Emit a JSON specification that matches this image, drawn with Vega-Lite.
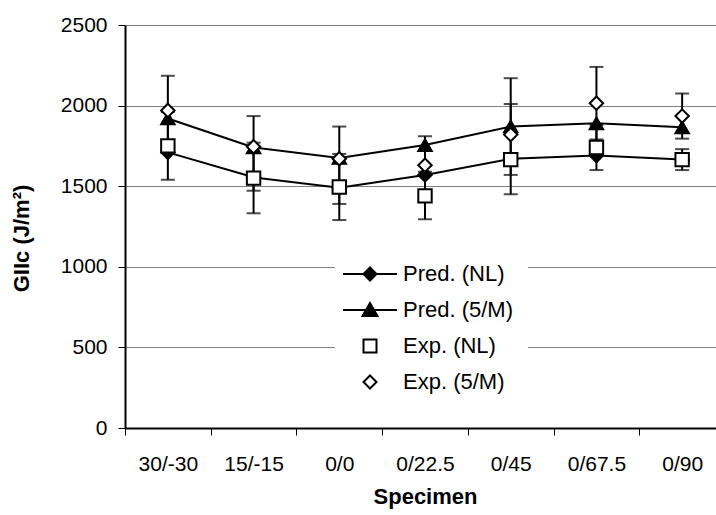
{
  "$schema": "https://vega.github.io/schema/vega-lite/v6.json",
  "width": 600,
  "height": 403,
  "autosize": {"type": "none"},
  "padding": {"left": 125, "top": 25, "right": -9, "bottom": 87},
  "background": "white",
  "config": {"view": {"stroke": null}, "font": "Liberation Sans"},
  "data": {"values": [
    {"specimen": "30/-30", "series": "Pred. (NL)", "value": 1710},
    {"specimen": "15/-15", "series": "Pred. (NL)", "value": 1555},
    {"specimen": "0/0", "series": "Pred. (NL)", "value": 1490},
    {"specimen": "0/22.5", "series": "Pred. (NL)", "value": 1570},
    {"specimen": "0/45", "series": "Pred. (NL)", "value": 1670},
    {"specimen": "0/67.5", "series": "Pred. (NL)", "value": 1690},
    {"specimen": "0/90", "series": "Pred. (NL)", "value": 1665},
    {"specimen": "30/-30", "series": "Pred. (5/M)", "value": 1920},
    {"specimen": "15/-15", "series": "Pred. (5/M)", "value": 1740},
    {"specimen": "0/0", "series": "Pred. (5/M)", "value": 1675},
    {"specimen": "0/22.5", "series": "Pred. (5/M)", "value": 1755},
    {"specimen": "0/45", "series": "Pred. (5/M)", "value": 1870},
    {"specimen": "0/67.5", "series": "Pred. (5/M)", "value": 1890},
    {"specimen": "0/90", "series": "Pred. (5/M)", "value": 1865},
    {"specimen": "30/-30", "series": "Exp. (NL)", "value": 1750, "lower": 1540, "upper": 1960},
    {"specimen": "15/-15", "series": "Exp. (NL)", "value": 1550, "lower": 1332, "upper": 1770},
    {"specimen": "0/0", "series": "Exp. (NL)", "value": 1495, "lower": 1290, "upper": 1700},
    {"specimen": "0/22.5", "series": "Exp. (NL)", "value": 1440, "lower": 1295, "upper": 1590},
    {"specimen": "0/45", "series": "Exp. (NL)", "value": 1665, "lower": 1570, "upper": 2010},
    {"specimen": "0/67.5", "series": "Exp. (NL)", "value": 1740, "lower": 1600, "upper": 1880},
    {"specimen": "0/90", "series": "Exp. (NL)", "value": 1665, "lower": 1600, "upper": 1730},
    {"specimen": "30/-30", "series": "Exp. (5/M)", "value": 1970, "lower": 1710, "upper": 2185},
    {"specimen": "15/-15", "series": "Exp. (5/M)", "value": 1745, "lower": 1472, "upper": 1935},
    {"specimen": "0/0", "series": "Exp. (5/M)", "value": 1670, "lower": 1390, "upper": 1870},
    {"specimen": "0/22.5", "series": "Exp. (5/M)", "value": 1630, "lower": 1450, "upper": 1810},
    {"specimen": "0/45", "series": "Exp. (5/M)", "value": 1820, "lower": 1450, "upper": 2170},
    {"specimen": "0/67.5", "series": "Exp. (5/M)", "value": 2015, "lower": 1790, "upper": 2240},
    {"specimen": "0/90", "series": "Exp. (5/M)", "value": 1935, "lower": 1795, "upper": 2075}
  ]},
  "encoding": {
    "x": {
      "field": "specimen", "type": "nominal",
      "sort": ["30/-30", "15/-15", "0/0", "0/22.5", "0/45", "0/67.5", "0/90"],
      "scale": {"type": "band", "paddingInner": 0, "paddingOuter": 0},
      "axis": {
        "title": "Specimen", "tickBand": "extent", "tickSize": 7, "tickColor": "black", "tickWidth": 1,
        "domainColor": "black", "domainWidth": 2, "labelFontSize": 21, "labelColor": "black",
        "labelPadding": 18, "labelAngle": 0, "titleFontSize": 22, "titleFontWeight": "bold",
        "titleColor": "black", "titlePadding": 12, "grid": false
      }
    }
  },
  "resolve": {"scale": {"shape": "independent", "fill": "independent"}},
  "layer": [
    {
      "transform": [{"filter": "indexof(datum.series, 'Pred') == 0"}],
      "mark": {"type": "line", "color": "black", "strokeWidth": 2},
      "encoding": {
        "y": {
          "field": "value", "type": "quantitative", "title": "GIIc (J/m²)",
          "scale": {"domain": [0, 2500], "nice": false},
          "axis": {
            "values": [0, 500, 1000, 1500, 2000, 2500], "format": "d", "grid": true, "gridColor": "#808080", "gridWidth": 1,
            "tickSize": 7, "tickColor": "black", "domainColor": "black", "domainWidth": 2,
            "labelFontSize": 21, "labelColor": "black", "labelPadding": 11,
            "titleFontSize": 22, "titleFontWeight": "bold", "titleColor": "black", "titlePadding": 27, "titleY": 213
          }
        },
        "detail": {"field": "series"}
      }
    },
    {
      "transform": [{"filter": "isValid(datum.lower)"}],
      "mark": {"type": "rule", "color": "black", "strokeWidth": 2},
      "encoding": {
        "y": {"field": "lower", "type": "quantitative", "title": "GIIc (J/m²)", "scale": {"domain": [0, 2500], "nice": false}},
        "y2": {"field": "upper"}
      }
    },
    {
      "transform": [{"filter": "isValid(datum.lower)"}],
      "mark": {"type": "tick", "orient": "horizontal", "color": "black", "thickness": 2, "size": 14},
      "encoding": {
        "y": {"field": "lower", "type": "quantitative", "title": "GIIc (J/m²)", "scale": {"domain": [0, 2500], "nice": false}}
      }
    },
    {
      "transform": [{"filter": "isValid(datum.upper)"}],
      "mark": {"type": "tick", "orient": "horizontal", "color": "black", "thickness": 2, "size": 14},
      "encoding": {
        "y": {"field": "upper", "type": "quantitative", "title": "GIIc (J/m²)", "scale": {"domain": [0, 2500], "nice": false}}
      }
    },
    {
      "mark": {"type": "point", "filled": true, "size": 180, "stroke": "black", "strokeWidth": 2, "opacity": 1},
      "encoding": {
        "y": {"field": "value", "type": "quantitative", "title": "GIIc (J/m²)", "scale": {"domain": [0, 2500], "nice": false}},
        "shape": {
          "field": "series", "type": "nominal",
          "scale": {"domain": ["Pred. (NL)", "Pred. (5/M)", "Exp. (NL)", "Exp. (5/M)"], "range": ["diamond", "triangle-up", "square", "diamond"]},
          "legend": null
        },
        "fill": {
          "field": "series", "type": "nominal",
          "scale": {"domain": ["Pred. (NL)", "Pred. (5/M)", "Exp. (NL)", "Exp. (5/M)"], "range": ["black", "black", "white", "white"]},
          "legend": null
        }
      }
    },
    {
      "transform": [{"filter": "false"}],
      "mark": {"type": "point", "filled": true, "stroke": "black", "strokeWidth": 2, "opacity": 1},
      "encoding": {
        "y": {"field": "value", "type": "quantitative", "title": "GIIc (J/m²)", "scale": {"domain": [0, 2500], "nice": false}},
        "shape": {
          "field": "series", "type": "nominal",
          "scale": {
            "domain": ["Pred. (NL)", "Pred. (5/M)", "Exp. (NL)", "Exp. (5/M)"],
            "range": [
              "M-27,0L27,0M0,-6.5L6.5,0L0,6.5L-6.5,0Z",
              "M-27,0L27,0M0,-7L7.5,6L-7.5,6Z",
              "M-6.5,-6.5L6.5,-6.5L6.5,6.5L-6.5,6.5Z",
              "M0,-6.5L6.5,0L0,6.5L-6.5,0Z"
            ]
          },
          "legend": {
            "orient": "none", "legendX": 210, "legendY": 224, "title": null,
            "fillColor": "white", "padding": 14, "labelFontSize": 22, "labelColor": "black",
            "symbolSize": 4, "symbolStrokeWidth": 2, "rowPadding": 14, "symbolOffset": 10, "labelOffset": 22
          }
        },
        "fill": {
          "field": "series", "type": "nominal",
          "scale": {"domain": ["Pred. (NL)", "Pred. (5/M)", "Exp. (NL)", "Exp. (5/M)"], "range": ["black", "black", "white", "white"]}
        }
      }
    }
  ]
}
